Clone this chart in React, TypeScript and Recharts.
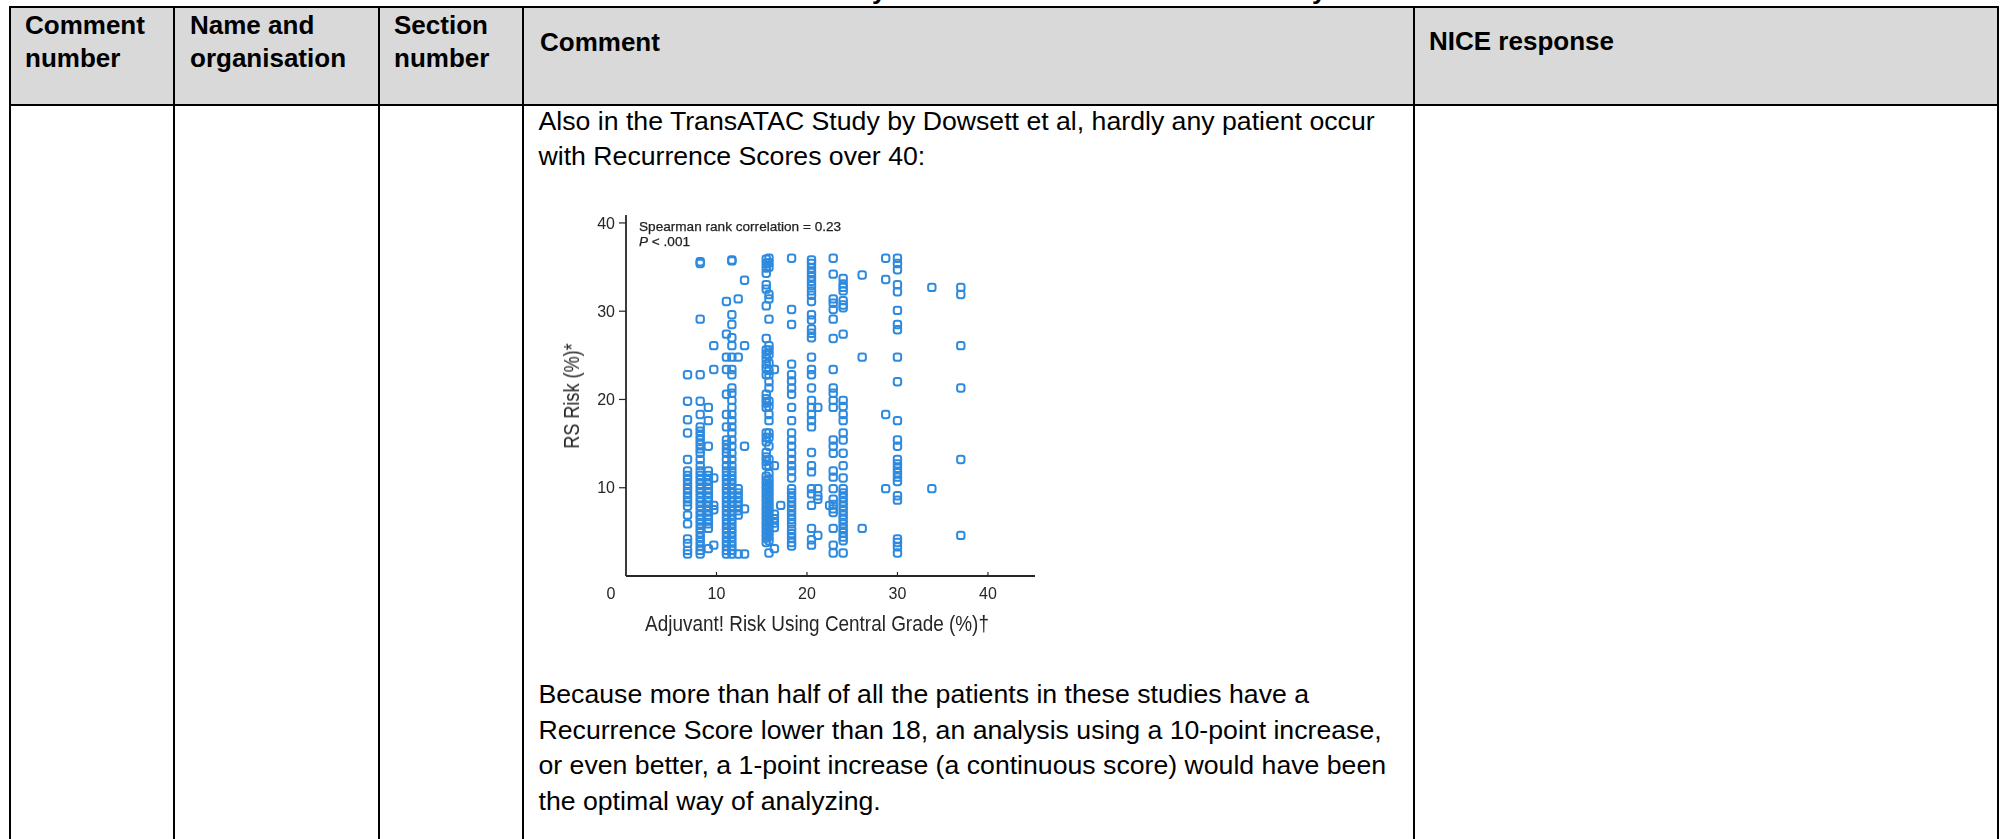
import { Scatter, ScatterChart, XAxis, YAxis } from 'recharts';

// RS risk values, one list per Adjuvant! risk column
const col68 = [22.8, 19.8, 17.7, 16.2, 13.2, 11.9, 11.4, 10.9, 10.4, 9.9, 9.4, 8.9, 8.4, 7.9, 6.9, 5.9, 4.2, 3.7, 2.9, 2.5];
const col82 = [35.6, 35.4, 29.1, 22.8, 19.8, 18.3, 16.9, 16.4, 15.9, 15.4, 14.9, 14.4, 13.9, 13.2, 12.5, 11.9, 11.4, 10.9, 10.4, 9.9, 9.4, 8.9, 8.4, 7.9, 7.4, 6.9, 6.4, 5.9, 5.4, 4.9, 4.4, 3.9, 3.4, 2.9, 2.5];
const col91 = [19.1, 17.6, 14.7, 11.9, 11.4, 10.9, 10.4, 9.9, 9.4, 8.9, 8.4, 7.9, 7.4, 6.9, 6.4, 5.9, 5.4, 3.1];
const col97 = [26.1, 23.4, 11.1, 8.0, 7.5, 3.5];
const col111 = [31.1, 27.4, 24.8, 23.4, 20.6, 18.3, 16.9, 15.4, 14.9, 14.4, 13.9, 13.2, 12.5, 11.9, 11.4, 10.9, 10.4, 9.9, 9.4, 8.9, 8.4, 7.9, 7.4, 6.9, 6.4, 5.9, 5.4, 4.9, 4.4, 3.9, 3.4, 2.9, 2.5];
const col117 = [35.8, 35.7, 29.6, 28.5, 27, 26.1, 24.8, 23.4, 22.8, 21.3, 20.7, 19.9, 19.1, 18.3, 17.6, 16.9, 16.2, 15.4, 14.7, 13.9, 13.2, 12.5, 11.9, 11.4, 10.9, 10.4, 9.9, 9.4, 8.9, 8.4, 7.9, 7.4, 6.9, 6.4, 5.9, 5.4, 4.9, 4.4, 3.9, 3.4, 2.9, 2.5];
const col124 = [31.4, 24.8, 9.9, 9.4, 8.9, 8.4, 7.9, 7.4, 6.9, 2.5];
const col131 = [33.5, 26.1, 14.7, 7.6, 2.5];
const col155 = [35.9, 35.4, 34.9, 34.3, 33, 32.5, 30.6, 26.9, 25.6, 25.1, 24.6, 24, 23.5, 22.8, 20.6, 20.1, 19.6, 19.1, 16.2, 15.7, 15.2, 14, 13.5, 13, 12.5, 11.3, 10.8, 10.3, 9.8, 9.3, 8.8, 8.3, 7.8, 7.3, 6.8, 6.3, 5.8, 5.3, 4.8, 4.3, 3.8];
const col158 = [36, 35.5, 35, 31.9, 31.4, 29.1, 26.1, 25.6, 25.1, 24.1, 23.3, 22.8, 22, 21.3, 19.8, 19.2, 18.3, 17.6, 16.2, 15.7, 14.7, 13.2, 12.5, 11.6, 11, 10.5, 10, 9.5, 9, 8.5, 8, 7.5, 7, 6.5, 6, 5.5, 5, 4.5, 4, 2.6];
const col164 = [23.4, 12.5, 7, 6.5, 6, 5.5, 3.1];
const col171 = [8.0];
const col183 = [36, 30.2, 28.5, 24, 22.8, 22.1, 21.3, 20.6, 19.1, 17.6, 16.2, 15.4, 14.7, 13.9, 13.2, 12.5, 11.9, 11.1, 9.9, 9.4, 8.9, 8.4, 7.9, 7.4, 6.9, 6.4, 5.9, 5.3, 4.8, 4.3, 3.8, 3.4];
const col205 = [35.8, 35.4, 34.9, 34.4, 33.9, 33.4, 32.9, 32.3, 31.8, 31.1, 29.6, 29, 28, 27.5, 27, 24.8, 23.4, 22.8, 21.3, 19.9, 19.1, 18.3, 17.6, 16.9, 14, 12.5, 11.8, 9.9, 9.3, 8.0, 5.4, 4.1, 3.5];
const col212 = [19.1, 9.9, 9.1, 8.7, 4.6];
const col225 = [8.0];
const col229 = [36, 34.2, 31.4, 30.9, 30.2, 29.1, 26.9, 23.4, 21.3, 20.7, 19.9, 19.1, 15.4, 14.7, 13.9, 11.9, 11.2, 9.9, 8.7, 8.1, 7.6, 7.2, 5.4, 3.5, 2.6];
const col240 = [33.7, 33.1, 32.7, 32.3, 31.2, 30.7, 30.4, 27.4, 19.9, 19.2, 18.3, 17.6, 16.2, 15.4, 13.9, 12.5, 11.1, 9.9, 9.4, 8.9, 8.4, 7.9, 7.4, 6.9, 6.4, 5.9, 5.4, 4.9, 4.4, 4, 2.6];
const col261 = [34.1, 24.8, 5.4];
const col287 = [36, 33.6, 18.3, 9.9];
const col300 = [36, 35.4, 34.7, 33, 32.2, 30.1, 28.5, 27.9, 24.8, 22, 17.6, 15.4, 14.7, 13.2, 12.7, 12.2, 11.7, 11.2, 10.7, 9.1, 8.6, 4.2, 3.8, 3.3, 2.6];
const col338 = [32.7, 9.9];
const col370 = [32.7, 31.9, 26.1, 21.3, 13.2, 4.6];

const columns: [number, number[]][] = [
  [6.8, col68], [8.2, col82], [9.1, col91], [9.7, col97], [11.1, col111], [11.7, col117],
  [12.4, col124], [13.1, col131], [15.5, col155], [15.8, col158], [16.4, col164], [17.1, col171],
  [18.3, col183], [20.5, col205], [21.2, col212], [22.5, col225], [22.9, col229], [24.0, col240],
  [26.1, col261], [28.7, col287], [30.0, col300], [33.8, col338], [37.0, col370],
];
const points = columns.flatMap(([x, ys]) => ys.map((y) => ({ x, y })));

const xTicks = [0, 10, 20, 30, 40];
const yTicks = [10, 20, 30, 40];

const headers: [string[], number, number][] = [
  [['Comment', 'number'], 25, 9],
  [['Name and', 'organisation'], 190, 9],
  [['Section', 'number'], 394, 9],
  [['Comment'], 540, 26],
  [['NICE response'], 1429, 25],
];
const bodyTop = ['Also in the TransATAC Study by Dowsett et al, hardly any patient occur', 'with Recurrence Scores over 40:'];
const bodyBottom = [
  'Because more than half of all the patients in these studies have a',
  'Recurrence Score lower than 18, an analysis using a 10-point increase,',
  'or even better, a 1-point increase (a continuous score) would have been',
  'the optimal way of analyzing.',
];
const colLines = [10, 174, 379, 523, 1414, 1998];
// the page title above the table is cut off, only these two descenders show
const titleTails = [872, 1312];

const BLUE = '#2d8ade';
const INK = '#262626';
const AXIS_FONT = '"Liberation Sans", sans-serif';
const SOFT = 'blur(0.4px)';

function Marker({ cx, cy }: any) {
  return <rect x={cx - 3.7} y={cy - 3.7} width={7.4} height={7.4} rx={2.4} fill="none" stroke={BLUE} strokeWidth={2} />;
}

function XTick({ x, y, payload }: any) {
  const zero = payload.value === 0;
  return (
    <g>
      {!zero && <line x1={x} x2={x} y1={y} y2={y - 4} stroke={INK} strokeWidth={1.2} />}
      <text x={zero ? x - 15 : x} y={y + 23} textAnchor="middle" fontSize={16} fontFamily={AXIS_FONT} fill={INK}>
        {payload.value}
      </text>
    </g>
  );
}

export default function App() {
  return (
    <div style={{ position: 'absolute', left: 0, top: 0, width: 2001, height: 839, overflow: 'hidden', background: '#fff', fontFamily: '"Liberation Sans", Arial, sans-serif', color: '#000' }}>
      {titleTails.map((left) => (
        <div key={left} style={{ position: 'absolute', left, top: -25, fontSize: 26, fontWeight: 700, lineHeight: '30px' }}>y</div>
      ))}
      <div style={{ position: 'absolute', left: 10, top: 7, width: 1988, height: 98, background: '#d9d9d9' }} />
      <div style={{ position: 'absolute', left: 10, top: 6, width: 1989, height: 2, background: '#000' }} />
      <div style={{ position: 'absolute', left: 10, top: 104, width: 1989, height: 2, background: '#000' }} />
      {colLines.map((x) => (
        <div key={x} style={{ position: 'absolute', left: x - 1, top: 6, width: 2, height: 833, background: '#000' }} />
      ))}
      {headers.map(([lines, left, top]) => (
        <div key={left} style={{ position: 'absolute', left, top, fontSize: 26, fontWeight: 700, lineHeight: '33px', whiteSpace: 'nowrap' }}>
          {lines.map((l) => <div key={l}>{l}</div>)}
        </div>
      ))}
      <div style={{ position: 'absolute', left: 538.5, top: 104, fontSize: 26.67, lineHeight: '35px', whiteSpace: 'nowrap' }}>
        {bodyTop.map((l) => <div key={l}>{l}</div>)}
      </div>
      <div style={{ position: 'absolute', left: 538.5, top: 677, fontSize: 26.67, lineHeight: '35.5px', whiteSpace: 'nowrap' }}>
        {bodyBottom.map((l) => <div key={l}>{l}</div>)}
      </div>

      <div style={{ position: 'absolute', left: 540, top: 200, filter: SOFT }}>
        <ScatterChart width={520} height={440} margin={{ top: 15, right: 25, bottom: 0, left: 0 }}>
          <XAxis
            type="number"
            dataKey="x"
            domain={[0, 45.2]}
            ticks={xTicks}
            interval={0}
            tickLine={false}
            tickSize={0}
            tickMargin={0}
            tick={<XTick />}
            axisLine={{ stroke: INK, strokeWidth: 1.8 }}
            height={64}
          />
          <YAxis
            type="number"
            dataKey="y"
            domain={[0, 40.9]}
            ticks={yTicks}
            interval={0}
            tickSize={7}
            tickMargin={4}
            width={86}
            tick={{ fontSize: 16, fontFamily: AXIS_FONT, fill: INK }}
            tickLine={{ stroke: INK, strokeWidth: 1.2 }}
            axisLine={{ stroke: INK, strokeWidth: 1.8 }}
          />
          <Scatter data={points} isAnimationActive={false} shape={<Marker />} />
        </ScatterChart>
      </div>

      <div style={{ position: 'absolute', left: 639, top: 219, fontSize: 13.6, lineHeight: '15px', color: '#222', whiteSpace: 'nowrap', WebkitTextStroke: '0.25px #222', filter: SOFT }}>
        <div>Spearman rank correlation = 0.23</div>
        <div><i>P</i> &lt; .001</div>
      </div>
      <div style={{ position: 'absolute', left: 817, top: 624, fontFamily: AXIS_FONT, fontSize: 22, color: INK, whiteSpace: 'nowrap', transform: 'translate(-50%, -50%) scaleX(0.86)', filter: SOFT }}>
        Adjuvant! Risk Using Central Grade (%)†
      </div>
      <div style={{ position: 'absolute', left: 572, top: 396, fontFamily: AXIS_FONT, fontSize: 22, color: INK, whiteSpace: 'nowrap', transform: 'translate(-50%, -50%) rotate(-90deg) scaleX(0.82)', filter: SOFT }}>
        RS Risk (%)*
      </div>
    </div>
  );
}
